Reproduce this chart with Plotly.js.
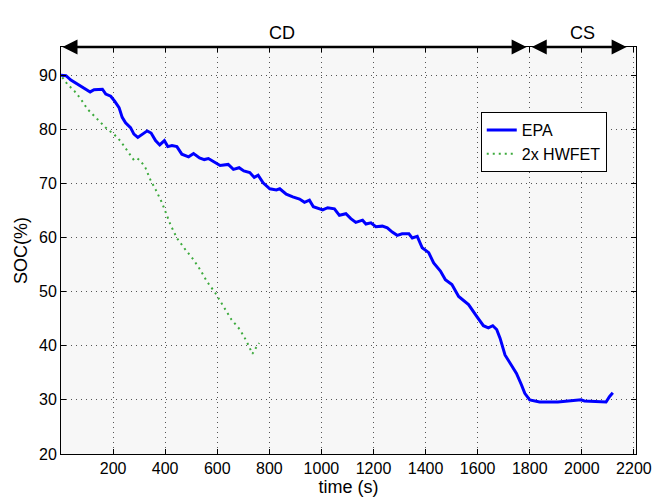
<!DOCTYPE html>
<html><head><meta charset="utf-8">
<script src="https://cdn.plot.ly/plotly-3.0.1.min.js"></script>
<style>html,body{margin:0;padding:0;background:#fff}#chart{width:652px;height:498px}</style>
</head><body><div id="chart"></div>
<script>
var epaTime = [0,19,38,64,89,112,127,159,172,191,206,223,235,248,267,280,295,312,331,346,363,379,397,410,426,445,464,490,509,532,550,566,585,611,642,662,684,702,725,742,757,776,802,827,840,865,890,916,935,954,969,992,1005,1024,1050,1069,1094,1113,1132,1158,1171,1190,1209,1234,1253,1272,1291,1310,1336,1349,1368,1387,1412,1431,1457,1476,1501,1527,1565,1597,1622,1641,1658,1673,1686,1705,1730,1749,1768,1781,1800,1838,1908,1972,1997,2010,2061,2093,2106,2119];
var epaSoc = [90.0,89.9,89.1,88.3,87.5,86.9,87.3,87.4,86.5,86.1,85.2,84.0,82.2,81.2,80.3,79.1,78.5,79.1,79.7,79.3,77.9,77.1,77.9,76.8,77.0,76.8,75.4,74.9,75.5,74.7,74.4,74.6,74.1,73.3,73.5,72.6,72.9,72.3,72.0,71.1,71.5,70.1,69.0,68.8,69.0,68.0,67.5,67.1,66.5,66.9,65.7,65.4,65.1,65.5,65.3,64.1,64.4,63.5,62.8,63.2,62.5,62.7,62.0,62.1,61.8,61.0,60.4,60.7,60.7,59.9,60.2,58.1,57.2,55.3,53.8,52.2,51.3,49.1,47.6,45.4,43.7,43.3,43.7,43.0,41.4,38.3,36.5,34.9,32.8,31.2,30.0,29.6,29.6,29.8,30.0,29.8,29.7,29.6,30.6,31.3];
var hwTime = [5,25,51,76,102,127,153,178,203,229,255,280,293,305,324,344,363,388,420,445,477,509,534,560,592,623,655,687,713,735,744,761];
var hwSoc = [89.6,88.3,87.1,85.6,83.7,82.5,81.2,80.0,79.1,77.8,76.0,74.3,74.6,74.2,72.9,70.6,68.9,66.4,62.4,59.9,57.8,55.9,54.1,51.9,49.8,47.3,44.8,43.0,40.8,38.5,39.3,40.5];
var xTicks = [200,400,600,800,1000,1200,1400,1600,1800,2000,2200];
var yTicks = [20,30,40,50,60,70,80,90];
var seriesNames = ['EPA','2x HWFET'];
var regionLabels = ['CD','CS'];
var regionStart = [0,1802];
var regionEnd = [1788,2172];
var regionLabelX = [848,2004];
var yTop = 95.2;

var font = 'Liberation Sans, Arial, Helvetica, sans-serif';
var traces = [
  {x: epaTime, y: epaSoc, type:'scatter', mode:'lines', name: seriesNames[0],
   line:{color:'#0000ff', width:3}},
  {x: hwTime, y: hwSoc, type:'scatter', mode:'lines', name: seriesNames[1],
   line:{color:'#3caa3c', width:2, dash:'2px,4px'}}
];
var annotations = [];
for (var i=0;i<regionLabels.length;i++){
  annotations.push({x: regionEnd[i], y: yTop, xref:'x', yref:'y', ax: regionStart[i], ay: yTop,
    axref:'x', ayref:'y', text:'', showarrow:true, arrowside:'end+start', arrowhead:2,
    arrowsize:1.2, arrowwidth:2.5, arrowcolor:'#000'});
  annotations.push({x: regionLabelX[i], y: 1.064, xref:'x', yref:'paper',
    text: regionLabels[i], showarrow:false, font:{family:font, size:18, color:'#000'}});
}
var axisCommon = {showline:true, linecolor:'#000', linewidth:1, mirror:'ticks', ticks:'inside',
  ticklen:5, tickcolor:'#000', showgrid:true, gridcolor:'#555', griddash:'1px,4px', gridwidth:1,
  zeroline:false, ticklabeloverflow:'allow', tickfont:{family:font, size:16, color:'#000'}};
var layout = {
  width:652, height:498, margin:{l:61, r:16, t:47, b:44},
  paper_bgcolor:'#fff', plot_bgcolor:'#f7f7f7',
  font:{family:font, color:'#000'},
  xaxis: Object.assign({}, axisCommon, {range:[0,2208], tickvals:xTicks, ticktext:xTicks.map(String),
    title:{text:'time (s)', font:{family:font, size:18, color:'#000'}, standoff:2}}),
  yaxis: Object.assign({}, axisCommon, {range:[20,yTop], tickvals:yTicks, ticktext:yTicks.map(String),
    title:{text:'SOC(%)', font:{family:font, size:18, color:'#000'}, standoff:6}}),
  legend:{x:0.73, y:0.84, xanchor:'left', yanchor:'top', bgcolor:'#fff', bordercolor:'#000',
    borderwidth:1, font:{family:font, size:16, color:'#000'}, tracegroupgap:0},
  showlegend:true, annotations: annotations
};
Plotly.newPlot('chart', traces, layout, {displayModeBar:false, staticPlot:true});
</script></body></html>
